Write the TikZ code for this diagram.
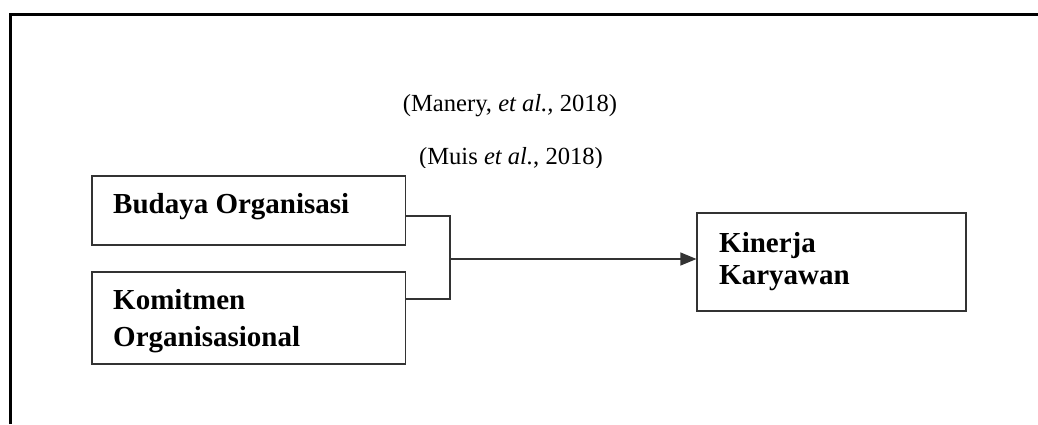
\documentclass[tikz,border=0pt]{standalone}
\usepackage{fontspec}
\setmainfont{Liberation Serif}
\usetikzlibrary{arrows.meta,calc}
\tikzset{
  box/.style={draw=black!80, line width=1.1pt, inner sep=0pt},
  lbl/.style={anchor=base west, inner sep=0pt, font=\fontsize{29}{34}\selectfont\bfseries},
  cite/.style={anchor=base, inner sep=0pt, font=\fontsize{24.6}{30}\selectfont},
  conn/.style={draw=black!80, line width=1.1pt},
}
\begin{document}
\begin{tikzpicture}[x=1pt,y=-1pt]
\useasboundingbox (0,0) rectangle (1038,424);
% outer frame (only top and left visible)
\draw[line width=2.8pt] (10.5,424) -- (10.5,14.8) -- (1040,14.8);
% citations
\node[cite] (c1) at (510,111) {(Manery, \textit{et al.,} 2018)};
\begin{scope}
\clip (0,120) rectangle (1038,167);
\node[cite] (c2) at (511,164.5) {(Muis \textit{et al.}, 2018)};
\end{scope}
% boxes
\node[box, minimum width=313.5pt, minimum height=69pt] (b1) at (248.75,210.5) {};
\node[box, minimum width=313.5pt, minimum height=92pt] (b2) at (248.75,318) {};
\node[box, minimum width=269pt, minimum height=98pt] (b3) at (831.5,262) {};
% labels
\node[lbl] (t1) at (113,213) {Budaya Organisasi};
\node[lbl] (t2a) at (113,309) {Komitmen};
\node[lbl] (t2b) at (113,346) {Organisasional};
\node[lbl] (t3a) at (719,252) {Kinerja};
\node[lbl] (t3b) at (719,284) {Karyawan};
% connectors
\coordinate (jt) at (450,216);
\coordinate (jb) at (450,299);
\coordinate (j) at (450,259);
\draw[conn] ([yshift=-5.5pt]b1.east) -- (jt) -- (jb) -- ([yshift=19pt]b2.east);
\draw[conn, -{Triangle[length=16pt,width=13pt]}] (j) -- (j -| b3.west);
\end{tikzpicture}
\end{document}
